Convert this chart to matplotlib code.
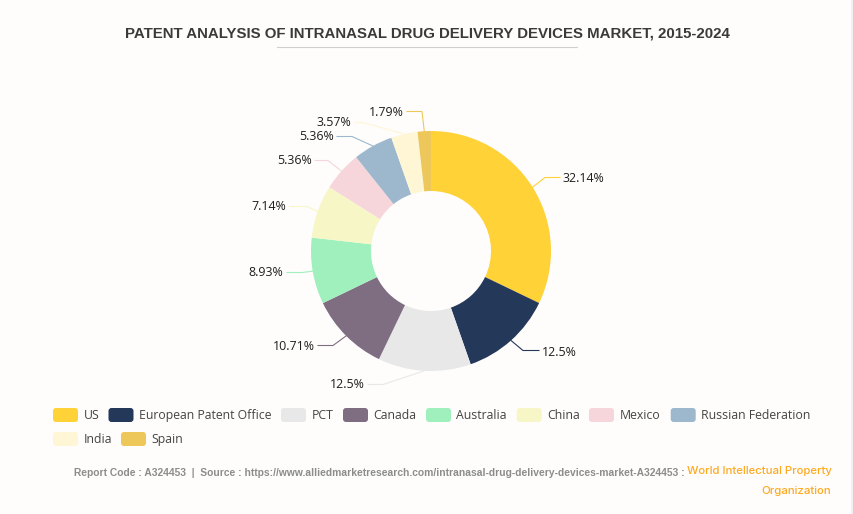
import matplotlib
matplotlib.use('Agg')
import numpy as np
import matplotlib.pyplot as plt
from matplotlib.patches import FancyBboxPatch, Rectangle

# Data
countries = ['US', 'European Patent Office', 'PCT', 'Canada', 'Australia', 'China',
             'Mexico', 'Russian Federation', 'India', 'Spain']
shares = [32.14, 12.5, 12.5, 10.71, 8.93, 7.14, 5.36, 5.36, 3.57, 1.79]
share_labels = ['32.14%', '12.5%', '12.5%', '10.71%', '8.93%', '7.14%', '5.36%', '5.36%', '3.57%', '1.79%']
colors = ['#FFD237', '#24385A', '#E8E8E9', '#7F6D82', '#9FF0BD', '#F7F6C6',
          '#F6D6DA', '#9DB8CD', '#FFF6D6', '#EEC75A']

title = 'PATENT ANALYSIS OF INTRANASAL DRUG DELIVERY DEVICES MARKET, 2015-2024'
footer = 'Report Code : A324453  |  Source : https://www.alliedmarketresearch.com/intranasal-drug-delivery-devices-market-A324453 :'
source_lines = ['World Intellectual Property', 'Organization']

W, H = 854, 514
BG = '#FEFDFC'
label_font = ['Open Sans', 'DejaVu Sans']


def py(y):
    # pixel y from the top -> axes y
    return H - y


fig = plt.figure(figsize=(W / 100, H / 100), dpi=100, facecolor=BG)
ax = fig.add_axes([0, 0, 1, 1])

cx, cy, r_out, r_in = 431, 251, 120, 60
wedges, _ = ax.pie(shares, colors=colors, startangle=90, counterclock=False, center=(cx, py(cy)),
                   radius=r_out, wedgeprops=dict(width=r_out - r_in, linewidth=0), normalize=True)

ax.set_xlim(0, W)
ax.set_ylim(0, H)
ax.set_aspect('auto')
ax.axis('off')

# page strip on the right edge
ax.add_patch(Rectangle((851, 0), 3, H, facecolor='#EEF0F3', edgecolor='none'))

# leader lines: elbow and end of each line, in pixels; label_y is the text centre
elbows = [(545, 178), (523, 351), (383, 385), (333, 346), (302, 273),
          (307, 207), (328, 161), (352, 137), (363, 123), (422, 112)]
ends = [(560, 178), (539, 351), (368, 385), (318, 346), (287, 273),
        (290, 207), (315, 161), (337, 137), (355, 123), (407, 112)]
label_y = [178, 351, 384, 345, 272, 205.5, 160, 135, 122, 111]

for w, lab, col, el, en, ly in zip(wedges, share_labels, colors, elbows, ends, label_y):
    a = np.deg2rad((w.theta1 + w.theta2) / 2)
    x0 = cx + r_out * np.cos(a)
    y0 = py(cy) + r_out * np.sin(a)
    ax.plot([x0, el[0], en[0]], [y0, py(el[1]) + 0.5, py(en[1]) + 0.5], color=col, lw=0.8,
            solid_joinstyle='miter')
    if en[0] > el[0]:
        ax.text(en[0] + 3, py(ly + 4.5), lab, ha='left', va='baseline', fontsize=8.9,
                color='#1E1E1E', family=label_font)
    else:
        ax.text(en[0] - 3.5, py(ly + 4.5), lab, ha='right', va='baseline', fontsize=8.9,
                color='#1E1E1E', family=label_font)

# Title
ax.text(427, py(38), title, ha='center', va='baseline', fontsize=10.78, fontweight='bold',
        color='#3A3A3A', family='Liberation Sans')
ax.plot([277, 577], [py(46.5), py(46.5)], color='#CFCFCF', lw=0.8)

# Legend
swatch_x = [53, 108.5, 281, 343, 426, 516.7, 589, 670.7, 53, 121]
swatch_y = [415] * 8 + [439, 439]
for name, col, sx, sy in zip(countries, colors, swatch_x, swatch_y):
    ax.add_patch(FancyBboxPatch((sx, py(sy) - 7), 25, 14, boxstyle='round,pad=0,rounding_size=3',
                                mutation_aspect=1, facecolor=col, edgecolor='none'))
    ax.text(sx + 30.5, py(sy + 4), name, ha='left', va='baseline', fontsize=8.8,
            color='#444444', family=label_font)

# Footer
ax.text(74.5, py(476), footer, ha='left', va='baseline', fontsize=7.4, fontweight='bold',
        color='#8C8C8C', family='Liberation Sans')
ax.text(831.5, py(474), source_lines[0], ha='right', va='baseline', fontsize=8.2,
        color='#FFA91F', family='Inter', fontweight='medium')
ax.text(831.5, py(494), source_lines[1], ha='right', va='baseline', fontsize=8.2,
        color='#FFA91F', family='Inter', fontweight='medium')

fig.savefig('out.png', dpi=100, facecolor=BG)
plt.close(fig)
